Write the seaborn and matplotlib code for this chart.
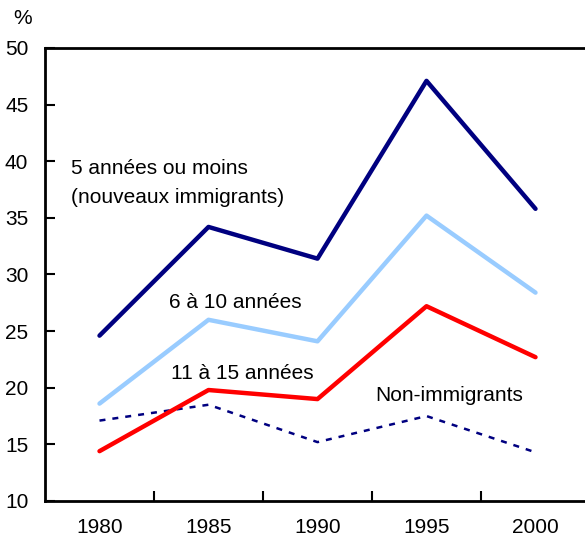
import numpy as np
import pandas as pd
import matplotlib
matplotlib.use('Agg')
import matplotlib.pyplot as plt
import seaborn as sns

years = ['1980', '1985', '1990', '1995', '2000']
recent = [24.6, 34.2, 31.4, 47.1, 35.8]      # 5 années ou moins
six_ten = [18.6, 26.0, 24.1, 35.2, 28.4]     # 6 à 10 années
eleven_15 = [14.4, 19.8, 19.0, 27.2, 22.7]   # 11 à 15 années
non_imm = [17.1, 18.5, 15.2, 17.5, 14.3]     # Non-immigrants

sns.set_style('white')
plt.rcParams['font.family'] = ['Liberation Sans', 'DejaVu Sans']
plt.rcParams['text.color'] = 'black'
plt.rcParams['xtick.color'] = 'black'
plt.rcParams['ytick.color'] = 'black'

fig = plt.figure(figsize=(5.85, 5.44), dpi=100)
ax = fig.add_axes([45/585, 43/544, 545/585, 453/544])

pos = np.arange(len(years))
df = pd.DataFrame({'pos': pos, 'recent': recent, 'six_ten': six_ten,
                   'eleven_15': eleven_15, 'non_imm': non_imm})

sns.lineplot(data=df, x='pos', y='non_imm', ax=ax, color='#000080', lw=1.8,
             linestyle=(0, (2.4, 2.8)))
sns.lineplot(data=df, x='pos', y='eleven_15', ax=ax, color='#ff0000', lw=3.2)
sns.lineplot(data=df, x='pos', y='six_ten', ax=ax, color='#99ccff', lw=3.2)
sns.lineplot(data=df, x='pos', y='recent', ax=ax, color='#000080', lw=3.2)

ax.set_xlim(-0.5, 4.5)
ax.set_ylim(10, 50)
ax.set_xlabel('')
ax.set_ylabel('')

ax.set_xticks(pos)
ax.set_xticklabels(years)
ax.set_xticks(pos[:-1] + 0.5, minor=True)
ax.tick_params(axis='x', which='major', bottom=True, length=0, pad=12, labelsize=15)
ax.tick_params(axis='x', which='minor', bottom=True, direction='in', length=7, width=1.5)
ax.set_yticks(np.arange(10, 51, 5))
ax.tick_params(axis='y', left=True, direction='in', length=7, width=1.5, pad=12, labelsize=15)

for s in ['left', 'bottom', 'top']:
    ax.spines[s].set_linewidth(2)
    ax.spines[s].set_color('black')
ax.spines['right'].set_visible(False)

fig.text(13/585, 1 - 18/544, '%', fontsize=15, va='center', ha='left')

ax.text(-0.26, 39.4, '5 années ou moins', fontsize=15, va='center')
ax.text(-0.26, 36.8, '(nouveaux immigrants)', fontsize=15, va='center')
ax.text(0.64, 27.5, '6 à 10 années', fontsize=15, va='center')
ax.text(0.66, 21.3, '11 à 15 années', fontsize=15, va='center')
ax.text(2.53, 19.35, 'Non-immigrants', fontsize=15, va='center')

fig.savefig('out.png', dpi=100)
